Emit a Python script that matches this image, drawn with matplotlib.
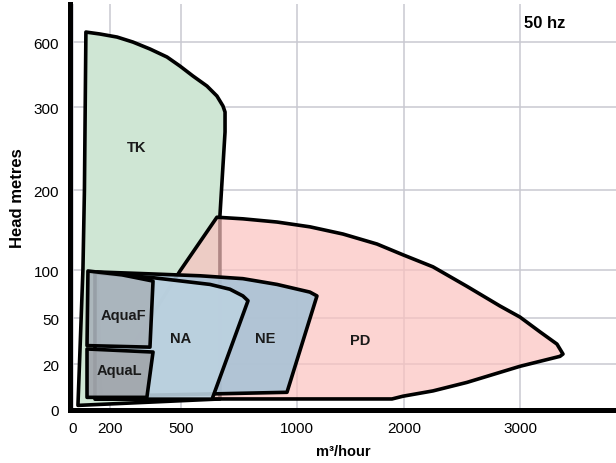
import numpy as np
import matplotlib.pyplot as plt
from matplotlib.patches import Polygon

# pump ranges, 50 hz: outlines as (flow m3/hour, head metres)
tk_flow = [70, 146, 230, 297, 369, 441, 496, 552, 612, 655, 681, 690, 690, 668, 668, 27, 54, 62]
tk_head = [646, 637, 623, 600, 568, 531, 489, 443, 397, 351, 305, 294, 270, 168, 4.8, 2, 101, 200]

pd_flow = [655, 767, 914, 1121, 1430, 1748, 1991, 2250, 2543, 2828, 3000, 3172, 3319, 3371,
           3345, 3000, 2543, 2250, 1991, 1888, 369, 230, 496]
pd_head = [166, 164, 160, 154, 145, 132.5, 119, 104, 83, 62.5, 51, 41, 33, 26.5,
           25, 19, 12, 8.3, 6, 4.8, 4.8, 17, 99]

ne_flow = [130, 369, 582, 767, 914, 1121, 1187, 957, 638, 150]
ne_head = [98, 96, 94, 91, 85, 77, 73, 7.7, 7, 6]

na_flow = [119, 382, 625, 711, 767, 789, 634, 119]
na_head = [97, 92, 85, 80, 73, 68, 4.7, 4.7]

aquaf_flow = [81, 250, 382, 369, 76]
aquaf_head = [99, 95, 88.5, 31, 32]

aqual_flow = [76, 382, 356, 76]
aqual_head = [29.8, 27.8, 5.5, 5.5]

labels = ["TK", "PD", "NE", "NA", "AquaF", "AquaL"]
label_flow = [314, 1589, 862, 500, 259, 242]
label_head = [252, 35.6, 37, 37, 53, 17.4]

x_ticks = [0, 200, 500, 1000, 2000, 3000]
y_ticks = [0, 20, 50, 100, 200, 300, 600]

# axes in the chart are stretched by hand: map tick values to positions
xk = [-100, 0, 200, 500, 1000, 2000, 3000, 5000]
xp = [54.5, 73, 110, 181, 297, 404, 520, 752]
yk = [-50, 0, 20, 50, 100, 200, 300, 600, 1000]
yp = [-115, 0, 46, 92, 140, 220, 303, 368, 455]


def fx(v):
    return np.interp(v, xk, xp)


def ix(v):
    return np.interp(v, xp, xk)


def fy(v):
    return np.interp(v, yk, yp)


def iy(v):
    return np.interp(v, yp, yk)


fam = ["Liberation Sans"]

fig = plt.figure(figsize=(6.16, 4.64), dpi=100)
ax = fig.add_axes([70 / 616, 53 / 464, 546 / 616, 406 / 464])
ax.set_xscale("function", functions=(fx, ix))
ax.set_yscale("function", functions=(fy, iy))
ax.set_xlim(-16, 3828)
ax.set_ylim(0, 775)

shapes = [
    (tk_flow, tk_head, "#cfe6d4", 1.0, 2),
    (pd_flow, pd_head, "#fbc2bf", 0.7, 3),
    (ne_flow, ne_head, "#a9c3d6", 0.9, 4),
    (na_flow, na_head, "#bcd2e0", 0.9, 5),
    (aquaf_flow, aquaf_head, "#a9b2ba", 0.9, 6),
    (aqual_flow, aqual_head, "#a2a7ad", 0.95, 7),
]
for fl, hd, col, a, z in shapes:
    pts = np.column_stack([fl, hd])
    ax.add_patch(Polygon(pts, closed=True, facecolor=col, alpha=a,
                         edgecolor="none", zorder=z))
    ax.add_patch(Polygon(pts, closed=True, facecolor="none",
                         edgecolor="black", lw=2.6, joinstyle="round", zorder=z))

for name, fl, hd in zip(labels, label_flow, label_head):
    ax.text(fl, hd, name, ha="center", va="center", fontsize=10.5,
            fontweight="bold", family=fam, color="#1a1a1a", zorder=10)

ax.text(3215, 690, "50 hz", ha="center", va="center", fontsize=12,
        fontweight="bold", family=fam)

ax.set_xticks(x_ticks)
ax.set_xticklabels([str(v) for v in x_ticks], family=fam, fontsize=11)
ax.set_yticks(y_ticks)
ax.set_yticklabels([str(v) for v in y_ticks], family=fam, fontsize=11)
ax.tick_params(length=0)
ax.tick_params(axis="x", pad=8)
ax.tick_params(axis="y", pad=8)
ax.grid(color="#c9c9d1", lw=1.1)
ax.set_axisbelow(True)

for s in ["top", "right"]:
    ax.spines[s].set_visible(False)
for s in ["left", "bottom"]:
    ax.spines[s].set_linewidth(3.6)
    ax.spines[s].set_zorder(12)

ax.set_xlabel("m³/hour", fontsize=10.5, fontweight="bold", family=fam)
ax.set_ylabel("Head metres", fontsize=12, fontweight="bold", family=fam)
ax.xaxis.set_label_coords(0.5, -0.083)
ax.yaxis.set_label_coords(-0.082, 0.525)

fig.savefig("out.png", dpi=100)
